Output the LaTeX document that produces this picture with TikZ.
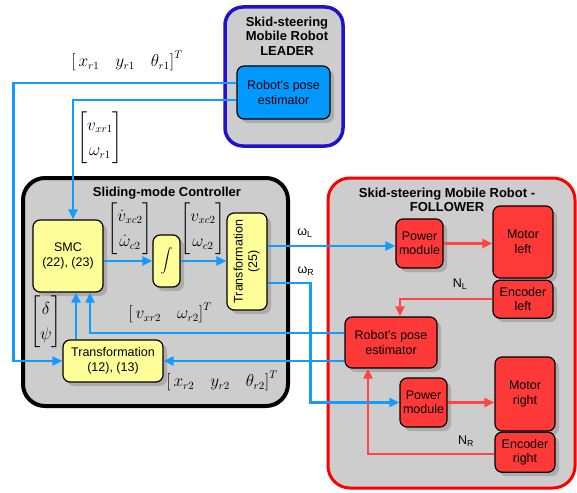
\documentclass[tikz,border=0pt]{standalone}
\usepackage{fontspec}
\setmainfont{Liberation Sans}
\usepackage{amsmath}
\usepackage{graphicx}
\usetikzlibrary{positioning,shadows,arrows.meta}
\definecolor{panelgray}{RGB}{205,205,205}
\definecolor{leaderblue}{RGB}{34,17,204}
\definecolor{poseblue}{RGB}{0,153,255}
\definecolor{lineblue}{RGB}{20,155,255}
\definecolor{smcyellow}{RGB}{255,255,153}
\definecolor{robred}{RGB}{255,56,56}
\definecolor{follred}{RGB}{255,0,0}
\definecolor{linered}{RGB}{255,70,70}
\newcommand{\vecpair}[2]{\renewcommand\arraystretch{1.35}\begin{bmatrix}#1\\#2\end{bmatrix}}
\begin{document}
\begin{tikzpicture}[x=1pt, y=-1pt,
        block/.style={draw, line width=1.2pt, rounded corners=7pt, align=center, inner sep=1pt,
            font=\fontsize{12.5}{14.5}\selectfont,
            drop shadow={shadow xshift=4pt, shadow yshift=-4pt, fill=black!45}},
        yblock/.style={block, fill=smcyellow},
        rblock/.style={block, fill=robred},
        panel/.style={rounded corners=18pt, fill=panelgray},
        paneltitle/.style={font=\bfseries\fontsize{13}{14.5}\selectfont, align=center},
        mathlbl/.style={font=\fontsize{16}{19}\selectfont, inner sep=0pt},
        sublbl/.style={font=\fontsize{12.5}{14}\selectfont, inner sep=0pt},
        bline/.style={draw=lineblue, line width=2.4pt, -{Triangle[length=10pt,width=9pt]}},
        rline/.style={draw=linered, line width=2.4pt, -{Triangle[length=10pt,width=9pt]}}]
        \useasboundingbox (0,0) rectangle (577,492);

        \node[panel, draw=leaderblue, line width=3.5pt, minimum width=118pt, minimum height=139pt] (leader) at (284,76.5) {};
        \node[paneltitle] (leadertitle) at (287,36) {Skid-steering\\Mobile Robot\\LEADER};
        \node[block, fill=poseblue, minimum width=93pt, minimum height=53pt] (lpose) at (283.5,92.5) {Robot's pose\\estimator};

        \node[panel, draw=black, line width=4pt, rounded corners=22pt, minimum width=265pt, minimum height=228pt] (ctrl) at (155.5,292) {};
        \node[paneltitle] (ctrltitle) at (167,193) {Sliding-mode Controller};
        \node[yblock, minimum width=70pt, minimum height=72pt] (smc) at (68,256) {SMC\\(22), (23)};
        \node[yblock, minimum width=27pt, minimum height=52pt] (integ) at (166.5,261) {$\displaystyle\int$};
        \node[yblock, minimum width=40pt, minimum height=97pt] (tr25) at (247,261.5) {\rotatebox{90}{\begin{tabular}{@{}c@{}}Transformation\\(25)\end{tabular}}};
        \node[yblock, minimum width=100pt, minimum height=42pt] (tr1213) at (113,361) {Transformation\\(12), (13)};

        \node[panel, draw=follred, line width=3pt, rounded corners=22pt, minimum width=247pt, minimum height=310pt] (foll) at (451.5,333) {};
        \node[paneltitle] (folltitle) at (447,200) {Skid-steering Mobile Robot -\\FOLLOWER};
        \node[rblock, minimum width=47pt, minimum height=49pt] (pwrL) at (419.5,243.5) {Power\\module};
        \node[rblock, minimum width=60pt, minimum height=72pt] (motL) at (523,242) {Motor\\left};
        \node[rblock, minimum width=60pt, minimum height=38pt, below=1pt of motL] (encL) {Encoder\\left};
        \node[rblock, minimum width=92pt, minimum height=51pt] (fpose) at (391,342.5) {Robot's pose\\estimator};
        \node[rblock, minimum width=47pt, minimum height=49pt] (pwrR) at (423.5,402.5) {Power\\module};
        \node[rblock, minimum width=60pt, minimum height=74pt] (motR) at (525,394) {Motor\\right};
        \node[rblock, minimum width=60pt, minimum height=40pt, below=0pt of motR] (encR) {Encoder\\right};

        \node[mathlbl] (xr1lbl) at (127,61) {$\left[\,x_{r1}\quad y_{r1}\quad \theta_{r1}\right]^T$};
        \node[mathlbl] (vr1lbl) at (100,138) {$\vecpair{v_{xr1}}{\omega_{r1}}$};
        \node[mathlbl] (vcdlbl) at (130,229) {$\vecpair{\dot v_{xc2}}{\dot\omega_{c2}}$};
        \node[mathlbl] (vclbl) at (203,229) {$\vecpair{v_{xc2}}{\omega_{c2}}$};
        \node[mathlbl] (dplbl) at (46,322) {$\vecpair{\delta}{\psi}$};
        \node[mathlbl] (vr2lbl) at (170,313) {$\left[\,v_{xr2}\quad \omega_{r2}\right]^T$};
        \node[mathlbl] (xr2lbl) at (222,381) {$\left[\,x_{r2}\quad y_{r2}\quad \theta_{r2}\right]^T$};
        \node[sublbl] (wllbl) at (305,233) {ω\textsubscript{L}};
        \node[sublbl] (wrlbl) at (306,271) {ω\textsubscript{R}};
        \node[sublbl] (nllbl) at (460,284) {N\textsubscript{L}};
        \node[sublbl] (nrlbl) at (466,441) {N\textsubscript{R}};

        \draw[bline] ([yshift=9.5pt]lpose.west) -| ([xshift=-49pt]tr1213.west) -- (tr1213.west);
        \draw[bline] ([yshift=-7.5pt]lpose.west) -| ([xshift=5pt]smc.north);
        \draw[bline] (smc.east |- integ.west) -- (integ.west);
        \draw[bline] (integ.east) -- (tr25.west |- integ.east);
        \coordinate (wlout) at ([yshift=15.5pt]tr25.east);
        \draw[bline] (wlout) -- (pwrL.west |- wlout);
        \draw[bline] ([yshift=-21.5pt]tr25.east) -| ([xshift=-89pt]pwrR.west) -- (pwrR.west);
        \coordinate (smcfb) at ([xshift=22pt]smc.south);
        \draw[bline] ([yshift=9.5pt]fpose.west) -| (smcfb);
        \draw[bline] (fpose.west |- tr1213.east) -- (tr1213.east);
        \coordinate (smcin) at ([xshift=8pt]smc.south);
        \draw[bline] (smcin |- tr1213.north) -- (smcin);
        \draw[rline] (pwrL.east) -- (motL.west |- pwrL.east);
        \coordinate (fposein) at ([xshift=9pt]fpose.north);
        \draw[rline] (encL.west) -| (fposein);
        \draw[rline] (pwrR.east) -- (motR.west |- pwrR.east);
        \coordinate (fposeup) at ([xshift=-23pt]fpose.south);
        \draw[rline] ([yshift=-2pt]encR.west) -| (fposeup);
    \end{tikzpicture}
\end{document}
